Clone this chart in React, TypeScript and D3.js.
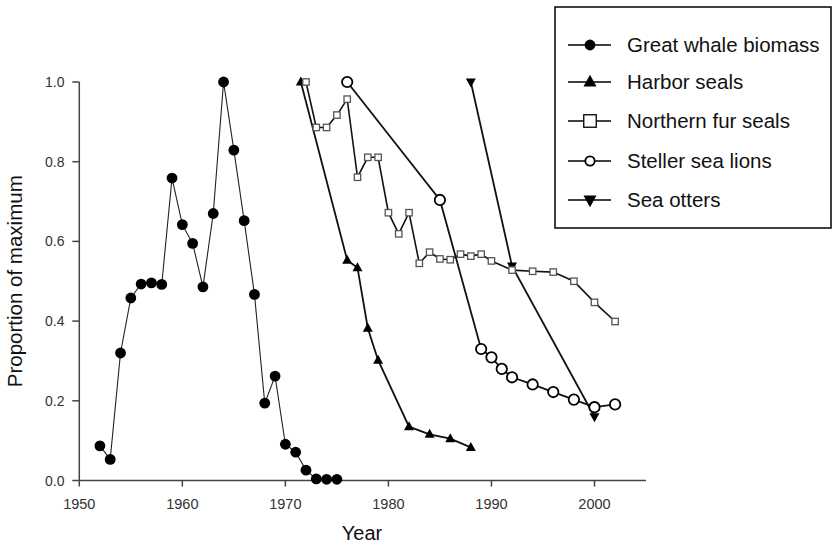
import React from "react";
import * as d3 from "d3";

// Year / proportion-of-maximum series
const whaleYears = [1952, 1953, 1954, 1955, 1956, 1957, 1958, 1959, 1960, 1961, 1962, 1963, 1964, 1965, 1966, 1967, 1968, 1969, 1970, 1971, 1972, 1973, 1974, 1975];
const whaleValues = [0.087, 0.053, 0.32, 0.458, 0.493, 0.496, 0.492, 0.759, 0.642, 0.595, 0.486, 0.67, 1.0, 0.829, 0.652, 0.467, 0.194, 0.262, 0.091, 0.071, 0.026, 0.004, 0.003, 0.003];

const harborYears = [1971.5, 1976, 1977, 1978, 1979, 1982, 1984, 1986, 1988];
const harborValues = [1.0, 0.553, 0.534, 0.382, 0.302, 0.135, 0.116, 0.105, 0.083];

const furYears = [1972, 1973, 1974, 1975, 1976, 1977, 1978, 1979, 1980, 1981, 1982, 1983, 1984, 1985, 1986, 1987, 1988, 1989, 1990, 1992, 1994, 1996, 1998, 2000, 2002];
const furValues = [1.0, 0.886, 0.886, 0.917, 0.957, 0.761, 0.811, 0.811, 0.672, 0.619, 0.672, 0.545, 0.573, 0.556, 0.554, 0.568, 0.563, 0.568, 0.551, 0.528, 0.525, 0.523, 0.5, 0.447, 0.399];

const stellerYears = [1976, 1985, 1989, 1990, 1991, 1992, 1994, 1996, 1998, 2000, 2002];
const stellerValues = [1.0, 0.704, 0.33, 0.309, 0.28, 0.259, 0.241, 0.222, 0.203, 0.184, 0.191];

const otterYears = [1988, 1992, 2000];
const otterValues = [1.0, 0.538, 0.16];

const xTicks = [1950, 1960, 1970, 1980, 1990, 2000];
const yTicks = [0, 0.2, 0.4, 0.6, 0.8, 1.0];

const legendLabels = ["Great whale biomass", "Harbor seals", "Northern fur seals", "Steller sea lions", "Sea otters"];

const FONT = "Arial, 'Liberation Sans', Helvetica, sans-serif";

type Kind = "dot" | "tri" | "square" | "ring" | "tridown";

function Marker({ kind, x, y, k = 1 }: { kind: Kind; x: number; y: number; k?: number }) {
  if (kind === "dot") return <circle cx={x} cy={y} r={5.4 * k} fill="#000" />;
  if (kind === "ring") return <circle cx={x} cy={y} r={5.2 * k} fill="#fff" stroke="#000" strokeWidth={1.8} />;
  if (kind === "square") {
    const h = 3.2 * k;
    return <rect x={x - h} y={y - h} width={2 * h} height={2 * h} fill="#fff" stroke={k > 1 ? "#000" : "#555"} strokeWidth={1.3} />;
  }
  if (kind === "tri") {
    const p = `M${x},${y - 5.5 * k}L${x + 5 * k},${y + 3.5 * k}L${x - 5 * k},${y + 3.5 * k}Z`;
    return <path d={p} fill="#000" />;
  }
  const p = `M${x},${y + 5.5 * k}L${x + 5 * k},${y - 3.5 * k}L${x - 5 * k},${y - 3.5 * k}Z`;
  return <path d={p} fill="#000" />;
}

export default function App() {
  const x = d3.scaleLinear().domain([1950, 2005]).range([79.3, 646]);
  const y = d3.scaleLinear().domain([0, 1]).range([480.5, 82]);

  const series: { years: number[]; values: number[]; kind: Kind; width: number; color: string }[] = [
    { years: whaleYears, values: whaleValues, kind: "dot", width: 1.1, color: "#222" },
    { years: harborYears, values: harborValues, kind: "tri", width: 1.8, color: "#111" },
    { years: otterYears, values: otterValues, kind: "tridown", width: 1.8, color: "#111" },
    { years: furYears, values: furValues, kind: "square", width: 1.6, color: "#111" },
    { years: stellerYears, values: stellerValues, kind: "ring", width: 1.8, color: "#111" },
  ];

  const line = d3
    .line<[number, number]>()
    .x((d) => x(d[0]))
    .y((d) => y(d[1]));

  const legendKinds: Kind[] = ["dot", "tri", "square", "ring", "tridown"];
  const legendScale = [1, 1.3, 1.95, 0.9, 1.3];
  const legendRows = [45, 82, 121, 161, 200];

  return (
    <svg
      width={833}
      height={545}
      style={{ position: "absolute", left: 0, top: 0, display: "block", background: "#fff" }}
      fontFamily={FONT}
    >
      {/* axes */}
      <g stroke="#444" strokeWidth={1.5} fill="none">
        <line x1={x(1950)} x2={x(2005)} y1={y(0)} y2={y(0)} />
        <line x1={x(1950)} x2={x(1950)} y1={y(0)} y2={y(1)} />
        {xTicks.map((t) => (
          <line key={t} x1={x(t)} x2={x(t)} y1={y(0)} y2={y(0) + 6} />
        ))}
        {yTicks.map((t) => (
          <line key={t} x1={x(1950) - 7} x2={x(1950)} y1={y(t)} y2={y(t)} />
        ))}
      </g>
      <g fill="#333" fontSize={14.5} textAnchor="middle">
        {xTicks.map((t) => (
          <text key={t} x={x(t)} y={509}>
            {t}
          </text>
        ))}
      </g>
      <g fill="#333" fontSize={14} textAnchor="end">
        {yTicks.map((t) => (
          <text key={t} x={64.5} y={y(t) + 5}>
            {t.toFixed(1)}
          </text>
        ))}
      </g>
      <text x={362} y={540} fontSize={20} textAnchor="middle" fill="#111">
        Year
      </text>
      <text
        transform={`translate(22,${(y(0) + y(1)) / 2}) rotate(-90)`}
        fontSize={20.5}
        textAnchor="middle"
        fill="#111"
      >
        Proportion of maximum
      </text>

      {/* series */}
      {series.map((s, i) => {
        const pts = s.years.map((yr, j) => [yr, s.values[j]] as [number, number]);
        return (
          <g key={i}>
            <path d={line(pts) || ""} fill="none" stroke={s.color} strokeWidth={s.width} />
            {pts.map((p, j) => (
              <Marker key={j} kind={s.kind} x={x(p[0])} y={y(p[1])} />
            ))}
          </g>
        );
      })}

      {/* legend */}
      <rect x={555} y={7} width={276} height={221} fill="#fff" stroke="#000" strokeWidth={1.5} />
      {legendLabels.map((lab, i) => (
        <g key={lab}>
          <line x1={568} x2={611} y1={legendRows[i]} y2={legendRows[i]} stroke="#000" strokeWidth={1.6} />
          <Marker kind={legendKinds[i]} x={590} y={legendRows[i]} k={legendScale[i]} />
          <text x={627} y={legendRows[i] + 7} fontSize={20.5} fill="#111">
            {lab}
          </text>
        </g>
      ))}
    </svg>
  );
}
